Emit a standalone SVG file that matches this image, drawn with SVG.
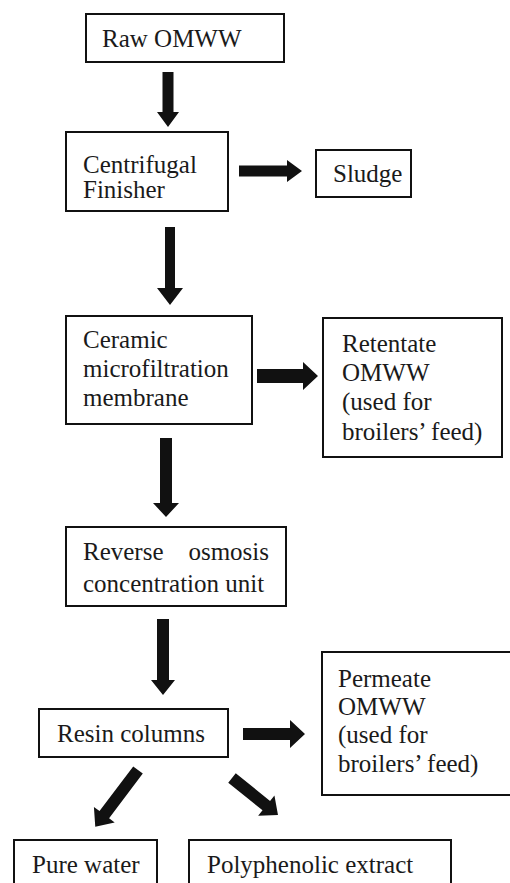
<svg xmlns="http://www.w3.org/2000/svg" width="510" height="883" viewBox="0 0 510 883">
<style>
.box{fill:#fff;stroke:#111;stroke-width:2}
.t{font-size:25px;fill:#1a1a1a}
.arr{fill:#111}
</style>
<rect x="0" y="0" width="510" height="883" fill="#fff"/>
<g id="connectors">
<polygon class="arr" points="162.5,72 173.5,72 173.5,112 179,112 168,127 157,112 162.5,112"/>
<polygon class="arr" points="165,227 175,227 175,288 183,288 170,305 157,288 165,288"/>
<polygon class="arr" points="160,438 172,438 172,503 179,503 166,517 153,503 160,503"/>
<polygon class="arr" points="157,619 169,619 169,680 175,680 163,695 151,680 157,680"/>
<polygon class="arr" points="239,165.5 287,165.5 287,160 302,171 287,182 287,176.5 239,176.5"/>
<polygon class="arr" points="257,369 303,369 303,362 318,376 303,390 303,383 257,383"/>
<polygon class="arr" points="243,728 290,728 290,720 305,734 290,748 290,740 243,740"/>
<polygon class="arr" points="0,-6 56,-6 56,-13 71,0 56,13 56,6 0,6" transform="translate(138,770) rotate(127)"/>
<polygon class="arr" points="0,-6 44,-6 44,-13 59,0 44,13 44,6 0,6" transform="translate(232,778) rotate(38.8)"/>
</g>
<g font-family="'Liberation Serif', 'DejaVu Serif', serif">
<g id="raw">
<rect class="box" x="86" y="14" width="198" height="48"/>
<text class="t" x="102" y="47">Raw OMWW</text>
</g>
<g id="centrifugal">
<rect class="box" x="66" y="132" width="162" height="79"/>
<text class="t" x="83" y="173">Centrifugal</text>
<text class="t" x="83" y="198">Finisher</text>
</g>
<g id="sludge">
<rect class="box" x="316" y="150" width="95" height="47"/>
<text class="t" x="333" y="182">Sludge</text>
</g>
<g id="ceramic">
<rect class="box" x="66" y="316" width="186" height="108"/>
<text class="t" x="83" y="348">Ceramic</text>
<text class="t" x="83" y="377">microfiltration</text>
<text class="t" x="83" y="406">membrane</text>
</g>
<g id="retentate">
<rect class="box" x="323" y="318" width="179" height="139"/>
<text class="t" x="342" y="352">Retentate</text>
<text class="t" x="342" y="381">OMWW</text>
<text class="t" x="342" y="410">(used for</text>
<text class="t" x="342" y="440">broilers’ feed)</text>
</g>
<g id="reverse">
<rect class="box" x="66" y="527" width="220" height="79"/>
<text class="t" x="83" y="560">Reverse</text>
<text class="t" x="269" y="560" text-anchor="end">osmosis</text>
<text class="t" x="83" y="592">concentration unit</text>
</g>
<g id="resin">
<rect class="box" x="39" y="709" width="189" height="48"/>
<text class="t" x="57" y="742">Resin columns</text>
</g>
<g id="permeate">
<rect class="box" x="322" y="652" width="200" height="143"/>
<text class="t" x="338" y="687">Permeate</text>
<text class="t" x="338" y="715">OMWW</text>
<text class="t" x="338" y="743">(used for</text>
<text class="t" x="338" y="772">broilers’ feed)</text>
</g>
<g id="purewater">
<rect class="box" x="14" y="840" width="143" height="60"/>
<text class="t" x="32" y="873">Pure water</text>
</g>
<g id="polyphenolic">
<rect class="box" x="189" y="840" width="262" height="60"/>
<text class="t" x="207" y="873">Polyphenolic extract</text>
</g>
</g>
</svg>
